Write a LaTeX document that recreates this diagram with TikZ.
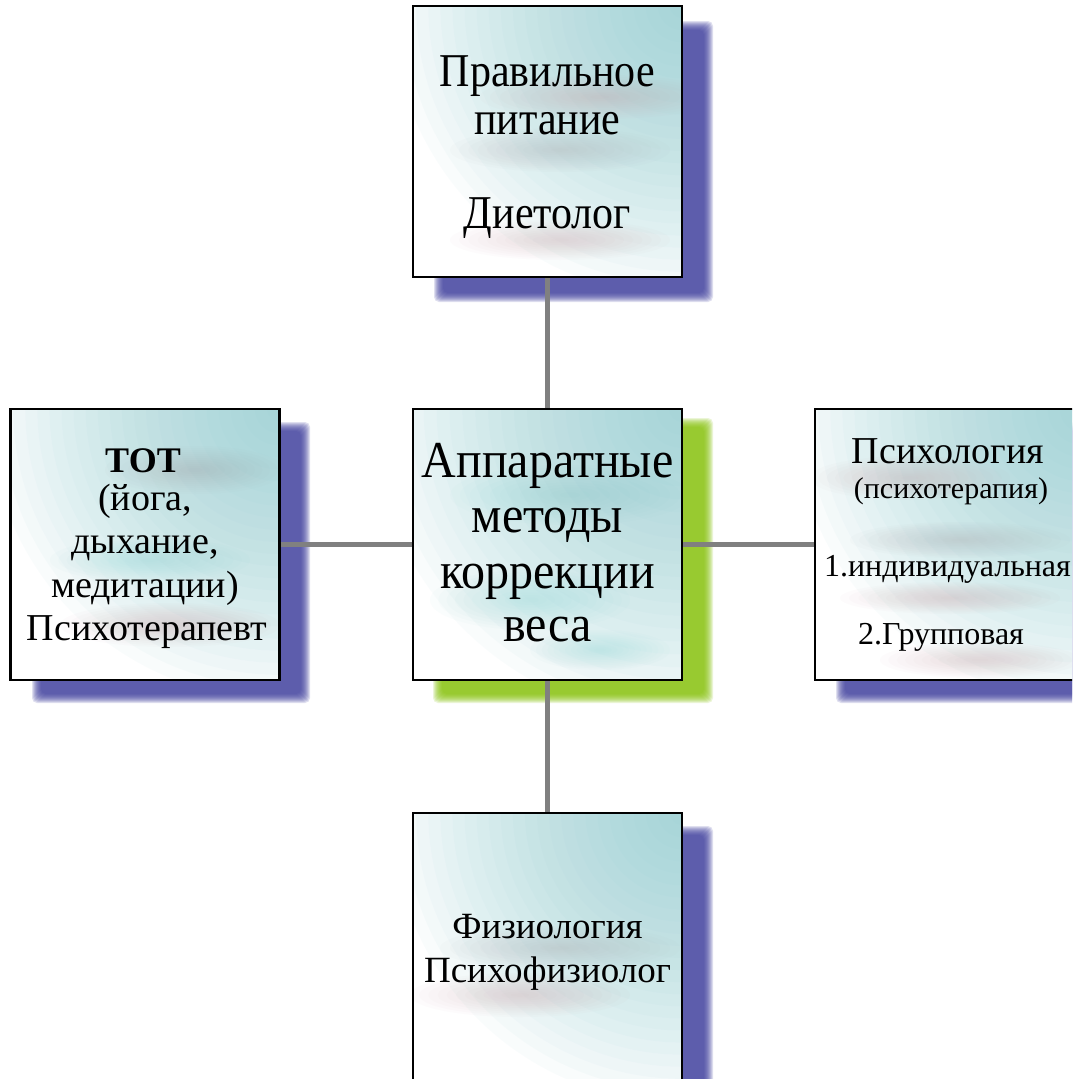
\documentclass[tikz,border=0pt]{standalone}
\usepackage{graphicx}
\usepackage{fontspec}
\setmainfont{Liberation Serif}
\definecolor{tealdeep}{RGB}{132,200,205}
\definecolor{shblue}{RGB}{62,62,158}
\definecolor{shgreen}{RGB}{134,194,7}
\definecolor{linegray}{RGB}{128,128,128}
\definecolor{smpink}{RGB}{200,165,170}
\definecolor{smgray}{RGB}{170,170,175}
\definecolor{smteal}{RGB}{140,212,212}
\newcommand\softshadow[5]{%
  \foreach \k in {0,...,9}{%
    \fill[#5, opacity=0.16, rounded corners=5pt] (#1+\k,#2+\k) rectangle (#3-\k,#4-\k);
  }}
\newcommand\smudge[5]{%
  \foreach \k in {1,...,12}{%
    \fill[#5, opacity=0.035] (#1,#2) ellipse [x radius={#3*\k/12*1pt}, y radius={#4*\k/12*1pt}];
  }}
\newcommand\boxbg[5]{% x1 y1 x2 y2 radius
  \fill[white] (#1,#2) rectangle (#3,#4);
  \foreach \k in {1,...,24}{%
    \fill[tealdeep, opacity=0.045] (#3,#2) circle [radius={#5*\k/24*1pt}];
  }}
\newcommand\tallA[1]{\scalebox{1}[1.12]{#1}}
\newcommand\tallB[1]{\scalebox{1}[1.08]{#1}}
\tikzset{
  boxframe/.style={draw=black, line width=2.6pt, minimum width=269pt, minimum height=271pt, inner sep=0pt},
  conn/.style={draw=linegray, line width=5pt},
  txt/.style={anchor=base, inner sep=0pt, text=black}
}
\begin{document}
\begin{tikzpicture}[x=1pt,y=-1pt]
\useasboundingbox (0,0) rectangle (1072,1079);
\clip (0,0) rectangle (1072,1079);
\fill[white] (0,0) rectangle (1072,1079);
% shadows
\softshadow{434}{21}{713}{302}{shblue}
\softshadow{433}{418}{713}{703}{shgreen}
\softshadow{32}{422}{310}{703}{shblue}
\softshadow{836}{422}{1115}{703}{shblue}
\softshadow{434}{826}{713}{1110}{shblue}
% box backgrounds
\begin{scope}
\clip (413,6) rectangle (682,277);
\boxbg{413}{6}{682}{277}{290}
\smudge{600}{97}{120}{22}{smpink}
\smudge{560}{150}{110}{22}{smgray}
\smudge{560}{240}{110}{20}{smpink}
\end{scope}
\begin{scope}
\clip (413,409) rectangle (682,680);
\boxbg{413}{409}{682}{680}{310}
\smudge{570}{495}{120}{30}{smteal}
\smudge{530}{600}{100}{30}{smteal}
\smudge{600}{650}{70}{20}{smteal}
\end{scope}
\begin{scope}
\clip (11,409) rectangle (279,680);
\boxbg{11}{409}{279}{680}{290}
\smudge{195}{470}{90}{24}{smgray}
\smudge{150}{560}{100}{22}{smteal}
\smudge{170}{625}{110}{22}{smpink}
\end{scope}
\begin{scope}
\clip (815,409) rectangle (1084,680);
\boxbg{815}{409}{1084}{680}{290}
\smudge{910}{478}{100}{22}{smpink}
\smudge{960}{540}{110}{18}{smgray}
\smudge{950}{598}{110}{16}{smpink}
\smudge{980}{660}{100}{18}{smpink}
\end{scope}
\begin{scope}
\clip (413,813) rectangle (682,1084);
\boxbg{413}{813}{682}{1084}{290}
\smudge{560}{948}{120}{22}{smgray}
\smudge{520}{995}{110}{22}{smpink}
\end{scope}
% frames
\node[boxframe] (top) at (547.5,141.5) {};
\node[boxframe] (mid) at (547.5,544.5) {};
\node[boxframe] (left) at (145,544.5) {};
\node[boxframe] (right) at (949.5,544.5) {};
\node[boxframe] (bot) at (547.5,948.5) {};
% connectors
\draw[conn] (top.south) -- (mid.north);
\draw[conn] (mid.south) -- (bot.north);
\draw[conn] (left.east) -- (mid.west);
\draw[conn] (mid.east) -- (right.west);
% texts
\node[txt, font=\fontsize{42}{48}\selectfont] (t1) at (547.5,86) {\tallA{Правильное}};
\node[txt, font=\fontsize{42}{48}\selectfont] (t2) at (547.5,134) {\tallA{питание}};
\node[txt, font=\fontsize{42}{48}\selectfont] (t3) at (547.5,228) {\tallA{Диетолог}};
\node[txt, font=\fontsize{48}{55}\selectfont] (m1) at (547.5,477) {\tallB{Аппаратные}};
\node[txt, font=\fontsize{48}{55}\selectfont] (m2) at (547.5,532) {\tallB{методы}};
\node[txt, font=\fontsize{48}{55}\selectfont] (m3) at (547.5,588) {\tallB{коррекции}};
\node[txt, font=\fontsize{48}{55}\selectfont] (m4) at (547.5,641) {\tallB{веса}};
\node[txt, font=\fontsize{36}{42}\selectfont\bfseries] (l1) at (143,472) {ТОТ};
\node[txt, font=\fontsize{38}{42}\selectfont] (l2) at (145,510) {(йога,};
\node[txt, font=\fontsize{38}{42}\selectfont] (l3) at (145,553) {дыхание,};
\node[txt, font=\fontsize{38}{42}\selectfont] (l4) at (145,597) {медитации)};
\node[txt, font=\fontsize{38}{42}\selectfont] (l5) at (147,640) {Психотерапевт};
\node[txt, font=\fontsize{38}{42}\selectfont] (r1) at (948,463) {Психология};
\node[txt, font=\fontsize{30}{34}\selectfont] (r2) at (951,498) {(психотерапия)};
\node[txt, font=\fontsize{32}{36}\selectfont] (r3) at (947.5,576) {1.индивидуальная};
\node[txt, font=\fontsize{32}{36}\selectfont] (r4) at (941,644) {2.Групповая};
\node[txt, font=\fontsize{37}{42}\selectfont] (b1) at (547.5,938) {Физиология};
\node[txt, font=\fontsize{37}{42}\selectfont] (b2) at (547.5,982) {Психофизиолог};
\end{tikzpicture}
\end{document}
